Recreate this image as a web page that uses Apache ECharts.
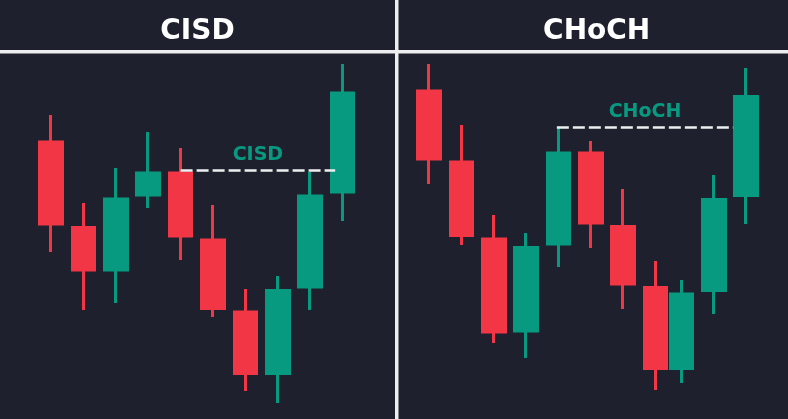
<!DOCTYPE html>
<html>
<head>
<meta charset="utf-8">
<script src="https://cdn.jsdelivr.net/npm/echarts@6/dist/echarts.min.js"></script>
<style>
html,body{margin:0;padding:0;background:#1e212d;}
#chart{width:788px;height:419px;}
</style>
</head>
<body>
<div id="chart"></div>
<script>
// ---- Panel titles ----
const panelTitles = ['CISD', 'CHoCH'];

// ---- Left panel (CISD) candles: time slot, open, close, low, high ----
const leftTime  = [0, 1, 2, 3, 4, 5, 6, 7, 8, 9];
const leftOpen  = [277, 191.5, 149, 224, 246, 179, 107, 45.5, 132, 227];
const leftClose = [195, 149, 220, 246, 183, 110.5, 45.5, 128.5, 223, 326];
const leftLow   = [167, 109, 116, 211, 159, 102, 28, 16, 109, 198];
const leftHigh  = [304, 216, 251, 287, 271, 214, 130, 143, 247, 355];

// ---- Right panel (CHoCH) candles ----
const rightTime  = [0, 1, 2, 3, 4, 5, 6, 7, 7.8, 8.8, 9.8];
const rightOpen  = [328, 257, 180, 88, 175, 266, 192.5, 131.5, 50.5, 128.5, 223.5];
const rightClose = [260, 183.5, 87, 171.5, 266, 196, 135, 50.5, 125, 219.5, 322.5];
const rightLow   = [235, 174, 76, 61, 152, 171, 110, 29, 36, 105, 195];
const rightHigh  = [355, 294, 204, 186, 292, 278, 230, 158, 139, 244, 351];

// ---- Level lines: [startTime, endTime, price, label] ----
const leftLevel  = { from: 4, to: 8.77, price: 249, label: 'CISD' };
const rightLevel = { from: 3.95, to: 9.4, price: 292, label: 'CHoCH' };

const RED = '#f23645', GREEN = '#089981', BG = '#1e212d', WHITE = '#eceef0';
const FONT = '"DejaVu Sans", Inter, sans-serif';

function build(t, o, c, l, h) {
  return t.map((x, i) => [x, o[i], c[i], l[i], h[i]]);
}

function levelLine(lv) {
  return {
    silent: true,
    symbol: ['none', 'none'],
    lineStyle: { color: WHITE, width: 2.5, type: [12, 4], opacity: 1 },
    label: {
      show: true, position: 'middle', formatter: lv.label,
      color: GREEN, fontSize: 19, fontWeight: 'bold',
      fontFamily: FONT, distance: 5
    },
    data: [[{ coord: [lv.from, lv.price] }, { coord: [lv.to, lv.price] }]],
    animation: false
  };
}

const candleStyle = {
  color: GREEN, color0: RED,
  borderColor: GREEN, borderColor0: RED,
  borderWidth: 3
};

const xAxisBase = { type: 'value', min: -1.5, max: 10.5, show: false, splitLine: { show: false } };
const yAxisBase = { type: 'value', min: 0, max: 419, show: false, splitLine: { show: false } };

const chart = echarts.init(document.getElementById('chart'), null, { renderer: 'canvas' });
chart.setOption({
  backgroundColor: BG,
  animation: false,
  grid: [
    { left: 2.4, width: 388.8, top: 0, bottom: 0 },
    { left: 380.5, width: 388.3, top: 0, bottom: 0 }
  ],
  xAxis: [Object.assign({ gridIndex: 0 }, xAxisBase), Object.assign({ gridIndex: 1 }, xAxisBase)],
  yAxis: [Object.assign({ gridIndex: 0 }, yAxisBase), Object.assign({ gridIndex: 1 }, yAxisBase)],
  series: [
    {
      type: 'candlestick', xAxisIndex: 0, yAxisIndex: 0,
      data: build(leftTime, leftOpen, leftClose, leftLow, leftHigh),
      encode: { x: 0, y: [1, 2, 3, 4] },
      barWidth: 23, itemStyle: candleStyle,
      markLine: levelLine(leftLevel)
    },
    {
      type: 'candlestick', xAxisIndex: 1, yAxisIndex: 1,
      data: build(rightTime, rightOpen, rightClose, rightLow, rightHigh),
      encode: { x: 0, y: [1, 2, 3, 4] },
      barWidth: 23, itemStyle: candleStyle,
      markLine: levelLine(rightLevel)
    }
  ],
  graphic: [
    { type: 'rect', shape: { x: 0, y: 0, width: 788, height: 50 }, style: { fill: BG }, z: 10 },
    { type: 'rect', shape: { x: 0, y: 50, width: 788, height: 3.5 }, style: { fill: WHITE }, z: 11 },
    { type: 'rect', shape: { x: 395, y: 0, width: 3.5, height: 419 }, style: { fill: WHITE }, z: 11 },
    { type: 'text', x: 197.5, y: 32, z: 12,
      style: { text: panelTitles[0], fill: '#ffffff', font: 'bold 28px ' + FONT,
               textAlign: 'center', textVerticalAlign: 'middle' } },
    { type: 'text', x: 596.7, y: 32, z: 12,
      style: { text: panelTitles[1], fill: '#ffffff', font: 'bold 28px ' + FONT,
               textAlign: 'center', textVerticalAlign: 'middle' } }
  ]
});
</script>
</body>
</html>
